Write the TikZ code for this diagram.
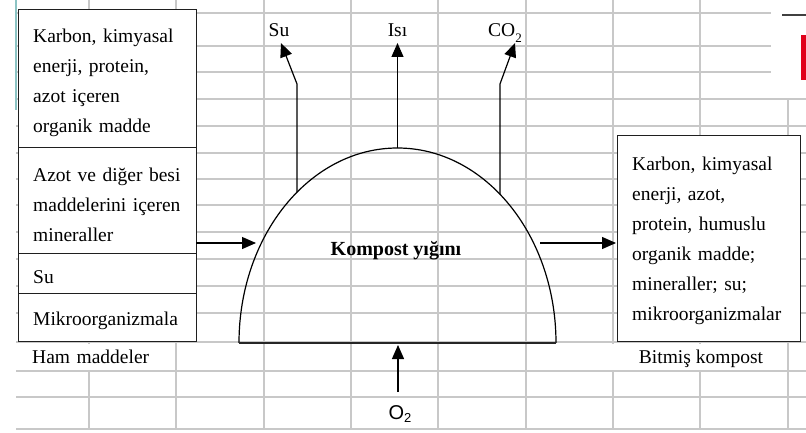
\documentclass[tikz,border=0pt]{standalone}
\usepackage{fontspec}
\setmainfont{Liberation Serif}
\newfontfamily\sansf{Liberation Sans}
\usetikzlibrary{arrows.meta}
\definecolor{gridgray}{HTML}{C8C8C8}
\definecolor{tealc}{HTML}{8CC4C4}
\definecolor{redc}{HTML}{E0001A}
\begin{document}
\begin{tikzpicture}[x=1pt,y=-1pt,
 gridline/.style={draw=gridgray, line width=2.6pt},
 boxpart/.style={draw=black!88, line width=1.3pt, fill=white, inner sep=0pt, anchor=north west},
 txt/.style={inner sep=0pt, anchor=base west, align=left, text width=190pt, font=\fontsize{19.5}{30}\selectfont},
 lbl/.style={inner sep=0pt, anchor=base, font=\fontsize{19.5}{30}\selectfont},
 flow/.style={line width=1.2pt, -{Triangle[length=14pt,width=12pt]}}
]
\useasboundingbox (0,0) rectangle (806,433);
% grid
\foreach \y in {13,46,72} \draw[gridline] (16,\y) -- (771,\y);
\foreach \y in {99,126,153,179,205,232,259,286,313,342,371,397,429} \draw[gridline] (16,\y) -- (806,\y);
\foreach \x in {89,176,264,351,438,526,613,700} \draw[gridline] (\x,0) -- (\x,429);
\draw[gridline] (788,99) -- (788,429);
\draw[tealc, line width=2pt] (16,0) -- (16,110);
\draw[black!75, line width=2pt] (782,15) -- (806,15);
\fill[redc] (801,35) rectangle (806,80);
% label backgrounds
\fill[white] (16,343.5) rectangle (174.5,369.6);
\fill[white] (606,343.5) rectangle (786.5,369.6);
% input boxes
\node[boxpart, minimum width=178pt, minimum height=138pt] (in1) at (18,9) {};
\node[boxpart, minimum width=178pt, minimum height=106pt] (in2) at (18,147) {};
\node[boxpart, minimum width=178pt, minimum height=40pt] (in3) at (18,253) {};
\node[boxpart, minimum width=178pt, minimum height=48pt] (in4) at (18,293) {};
\node[boxpart, minimum width=183pt, minimum height=206pt] (out) at (617,135) {};
% texts
\node[txt] (t1) at (33,43) {Karbon, kimyasal\\enerji, protein,\\azot içeren\\organik madde};
\node[txt] (t2) at (33,182) {Azot ve diğer besi\\maddelerini içeren\\mineraller};
\node[txt] (t3) at (33,283) {Su};
\node[txt] (t4) at (33,325) {Mikroorganizmala};
\node[txt] (t5) at (32,363) {Ham maddeler};
\node[txt] (t6) at (632,171) {Karbon, kimyasal\\enerji, azot,\\protein, humuslu\\organik madde;\\mineraller; su;\\mikroorganizmalar};
\node[lbl] (bk) at (701,363) {Bitmiş kompost};
% compost heap
\coordinate (pL) at (239,343);
\coordinate (pR) at (556,343);
\draw[line width=1.2pt] (pL) arc[start angle=180, end angle=360, x radius=158.5, y radius=195];
\draw[black!85, line width=1.6pt] (pL) -- (pR);
\node[lbl, font=\bfseries\fontsize{20}{30}\selectfont] (ky) at (396,255) {Kompost yığını};
% outputs
\node[lbl] (su) at (279,37) {Su};
\node[lbl] (isi) at (397.5,37) {Isı};
\node[lbl] (co2) at (505,37) {CO\raisebox{-0.28em}{\fontsize{13}{13}\selectfont 2}};
\coordinate (suS) at (297,192.2);
\coordinate (suB) at (297,84);
\coordinate (suT) at (281,43);
\coordinate (top) at (397.5,148);
\coordinate (isiT) at (397.5,43);
\coordinate (coS) at (500,194.3);
\coordinate (coB) at (500,84);
\coordinate (coT) at (515,43);
\draw[flow] (suS) -- (suB) -- (suT);
\draw[flow] (top) -- (isiT);
\draw[flow] (coS) -- (coB) -- (coT);
% side arrows
\coordinate (inA) at (196,243);
\coordinate (inT) at (256,243);
\coordinate (outA) at (540,243);
\coordinate (outT) at (616,243);
\draw[flow] (inA) -- (inT);
\draw[flow] (outA) -- (outT);
% oxygen
\node[inner sep=0pt, anchor=base, font=\sansf\fontsize{20}{20}\selectfont] (o2) at (400,419) {O\raisebox{-0.3ex}{\fontsize{13}{13}\selectfont 2}};
\coordinate (o2A) at (398,392);
\coordinate (o2T) at (398,345);
\draw[flow] (o2A) -- (o2T);
\end{tikzpicture}
\end{document}
